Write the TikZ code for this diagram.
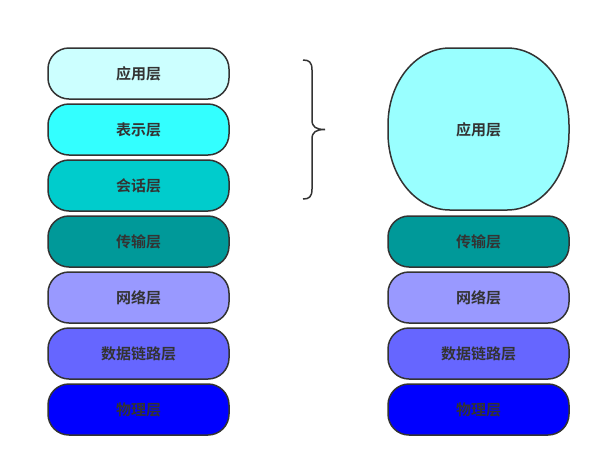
\documentclass[tikz,border=0pt]{standalone}
\usepackage{fontspec}
\newfontfamily\cjk{Noto Sans CJK SC Bold}
\definecolor{c1}{HTML}{CCFFFF}
\definecolor{c2}{HTML}{33FFFF}
\definecolor{c3}{HTML}{00CCCC}
\definecolor{c4}{HTML}{009999}
\definecolor{c5}{HTML}{9999FF}
\definecolor{c6}{HTML}{6666FF}
\definecolor{c7}{HTML}{0000FF}
\definecolor{cbig}{HTML}{99FFFF}
\definecolor{strk}{HTML}{333333}
\tikzset{
  lbl/.style={font=\cjk\fontsize{15}{17}\selectfont, text=strk, inner sep=0pt},
  layer/.style={lbl, draw=strk, line width=1.5pt, rounded corners=21pt, minimum width=181pt, minimum height=51pt},
  bigshape/.style={draw=strk, line width=1.5pt, fill=cbig},
  bracel/.style={draw=strk, line width=1.5pt}
}
\begin{document}
\begin{tikzpicture}[x=1pt,y=-1pt]
\useasboundingbox (0,0) rectangle (601,467);
\node[layer, fill=c1] (l1) at (138.5,73.5) {应用层};
\node[layer, fill=c2] (l2) at (138.5,129.5) {表示层};
\node[layer, fill=c3] (l3) at (138.5,185.5) {会话层};
\node[layer, fill=c4] (l4) at (138.5,241.5) {传输层};
\node[layer, fill=c5] (l5) at (138.5,297.5) {网络层};
\node[layer, fill=c6] (l6) at (138.5,353.5) {数据链路层};
\node[layer, fill=c7] (l7) at (138.5,409.5) {物理层};
\path[bigshape] (388,125) .. controls (388,82) and (415.8,48) .. (450,48) -- (507,48)
  .. controls (541.2,48) and (569,82) .. (569,125) -- (569,133)
  .. controls (569,176) and (541.2,210) .. (507,210) -- (450,210)
  .. controls (415.8,210) and (388,176) .. (388,133) -- cycle;
\node[lbl] (r1) at (478.5,129.5) {应用层};
\node[layer, fill=c4] (r4) at (478.5,241.5) {传输层};
\node[layer, fill=c5] (r5) at (478.5,297.5) {网络层};
\node[layer, fill=c6] (r6) at (478.5,353.5) {数据链路层};
\node[layer, fill=c7] (r7) at (478.5,409.5) {物理层};
\coordinate (btop) at (303,60);
\coordinate (btip) at (325,129.5);
\coordinate (bbot) at (303,199);
\draw[bracel] (btop) .. controls (309,60) and (312,62) .. (312,70)
  -- (312,120) .. controls (312,127) and (316,129.5) .. (btip)
  .. controls (316,129.5) and (312,132) .. (312,139)
  -- (312,189) .. controls (312,197) and (309,199) .. (bbot);
\end{tikzpicture}
\end{document}
